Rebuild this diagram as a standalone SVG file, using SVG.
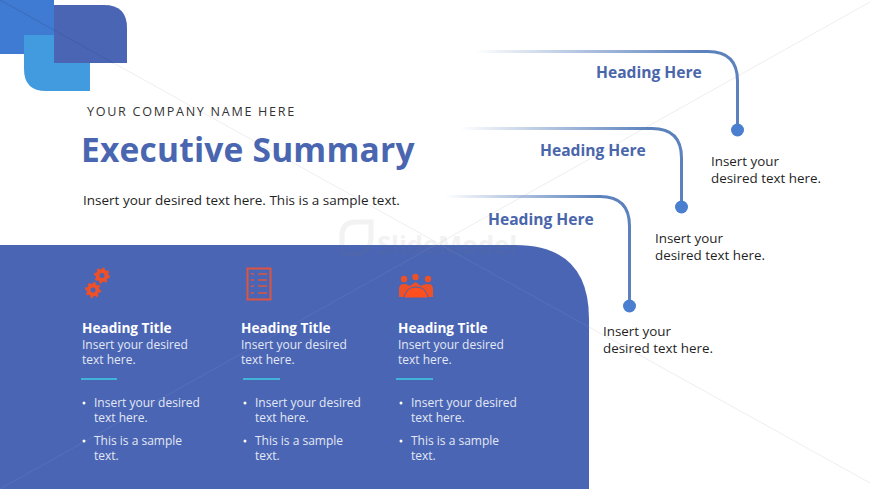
<svg xmlns="http://www.w3.org/2000/svg" width="870" height="489" viewBox="0 0 870 489">
<style>
text{font-family:"Open Sans","Noto Sans","Liberation Sans",sans-serif}
.conn{fill:none;stroke-width:3}
.hh{font-size:15.6px;font-weight:700;fill:#4a66ab}
.d{font-size:13.4px;fill:#1f1f1f}
.ht{font-size:13.6px;font-weight:700;fill:#fff}
.p{font-size:12px;fill:#e3e8f5}
.rule{fill:none;stroke:#3fb4d8;stroke-width:2}
.dot{fill:#4a7fcf}
.ic{fill:#ee5027}
.gear{fill:none;stroke:#ee5027}
</style>
<defs>
<linearGradient id="g1" gradientUnits="userSpaceOnUse" x1="475" y1="0" x2="700" y2="0"><stop offset="0" stop-color="#5b82bd" stop-opacity="0"/><stop offset="1" stop-color="#5b82bd"/></linearGradient>
<linearGradient id="g2" gradientUnits="userSpaceOnUse" x1="460" y1="0" x2="650" y2="0"><stop offset="0" stop-color="#5b82bd" stop-opacity="0"/><stop offset="1" stop-color="#5b82bd"/></linearGradient>
<linearGradient id="g3" gradientUnits="userSpaceOnUse" x1="445" y1="0" x2="600" y2="0"><stop offset="0" stop-color="#5b82bd" stop-opacity="0"/><stop offset="1" stop-color="#5b82bd"/></linearGradient>
</defs>
<rect width="870" height="489" fill="#fff"/>
<path d="M0 0L870 483" stroke="#eeeef1" fill="none"/>
<path d="M870 2L0 489" stroke="#eeeef1" fill="none"/>
<g id="corner">
<rect x="0" y="0" width="54" height="54" fill="#3f7bd3"/>
<path d="M24 35H90V91H46Q24 91 24 69Z" fill="#429bdf"/>
<path d="M54 5H104Q127 5 127 28V63H54Z" fill="#4a65b3"/>
<path d="M0 0L113 63" stroke="#3a5aa0" stroke-opacity=".5" fill="none"/>
</g>
<g id="header">
<text x="87" y="116" font-size="12.6" letter-spacing="1.7" fill="#333">YOUR COMPANY NAME HERE</text>
<text x="81" y="162" font-size="33.500" font-weight="700" fill="#4a66b0" letter-spacing=".2">Executive Summary</text>
<text x="83" y="205" class="d" style="font-size:13.5px">Insert your desired text here. This is a sample text.</text>
</g>
<g id="panel">
<path d="M0 245H515Q589 245 589 319V489H0Z" fill="#4a65b3"/>
<path d="M435 245L0 489M441 245L589 327" stroke="#fff" stroke-opacity=".07" fill="none"/>
</g>
<g id="watermark" opacity=".09" fill="#777">
<text x="377" y="254" font-size="25" font-weight="700" textLength="140" lengthAdjust="spacingAndGlyphs">SlideModel</text>
<path d="M342 249V236Q342 222 356 222H371V236Q371 254 355 254H348Q342 254 342 249Z" fill="none" stroke="#777" stroke-width="5"/>
</g>
<g id="connectors">
<path class="conn" stroke="url(#g1)" d="M475 51.500H708Q737.500 51.500 737.500 81V130"/>
<path class="conn" stroke="url(#g2)" d="M460 128.500H652Q681.500 128.500 681.500 158V207"/>
<path class="conn" stroke="url(#g3)" d="M445 196.500H600Q629.500 196.500 629.500 226V306"/>
</g>
<g id="node-1">
<circle class="dot" cx="737.500" cy="130" r="6.500"/>
<text class="hh" x="596" y="77.500">Heading Here</text>
<text class="d" x="711" y="166">Insert your</text><text class="d" x="711" y="183">desired text here.</text>
</g>
<g id="node-2">
<circle class="dot" cx="681.500" cy="207" r="6.500"/>
<text class="hh" x="540" y="155.500">Heading Here</text>
<text class="d" x="655" y="243">Insert your</text><text class="d" x="655" y="260">desired text here.</text>
</g>
<g id="node-3">
<circle class="dot" cx="629.500" cy="306" r="6.500"/>
<text class="hh" x="488" y="224.500">Heading Here</text>
<text class="d" x="603" y="336">Insert your</text><text class="d" x="603" y="353">desired text here.</text>
</g>
<g id="col-1">
<circle class="gear" cx="102" cy="275.500" r="4.500" stroke-width="4"/><circle class="gear" cx="102" cy="275.500" r="7" stroke-width="2" stroke-dasharray="2.500 3"/>
<circle class="gear" cx="93" cy="290" r="4.500" stroke-width="4"/><circle class="gear" cx="93" cy="290" r="7" stroke-width="2" stroke-dasharray="2.500 3"/>
<text class="ht" x="82" y="333">Heading Title</text>
<text class="p" x="82" y="349">Insert your desired</text><text class="p" x="82" y="364">text here.</text>
<path class="rule" d="M81 379H117"/>
<circle cx="84" cy="403" r="1.500" fill="#fff"/><text class="p" x="94" y="407">Insert your desired</text><text class="p" x="94" y="422">text here.</text>
<circle cx="84" cy="441" r="1.500" fill="#fff"/><text class="p" x="94" y="445">This is a sample</text><text class="p" x="94" y="460">text.</text>
</g>
<g id="col-2">
<rect x="247.500" y="268.500" width="23" height="31" fill="none" stroke="#dd5440" stroke-width="2"/>
<path d="M258 274H267M258 280H267M258 286H267M258 293H267M251 274H254M251 280H254M251 286H254M251 293H254" stroke="#dd5440" stroke-width="1.500" fill="none"/>
<text class="ht" x="241" y="333">Heading Title</text>
<text class="p" x="241" y="349">Insert your desired</text><text class="p" x="241" y="364">text here.</text>
<path class="rule" d="M243 379H280"/>
<circle cx="245" cy="403" r="1.500" fill="#fff"/><text class="p" x="255" y="407">Insert your desired</text><text class="p" x="255" y="422">text here.</text>
<circle cx="245" cy="441" r="1.500" fill="#fff"/><text class="p" x="255" y="445">This is a sample</text><text class="p" x="255" y="460">text.</text>
</g>
<g id="col-3">
<g class="ic"><circle cx="404" cy="279" r="3.200"/><circle cx="415.500" cy="277" r="3.200"/><circle cx="428" cy="279" r="3.200"/>
<path d="M399 297V289Q399 284 404 284Q408 284 410 286L415.500 282L421 286Q423 284 428 284Q433 284 433 289V297Z"/></g>
<path d="M404 298Q406 287 416 287Q426 287 428 298Z" fill="#ff4f1f" stroke="#4a65b3" stroke-width="1"/>
<text class="ht" x="398" y="333">Heading Title</text>
<text class="p" x="398" y="349">Insert your desired</text><text class="p" x="398" y="364">text here.</text>
<path class="rule" d="M396 379H433"/>
<circle cx="401" cy="403" r="1.500" fill="#fff"/><text class="p" x="411" y="407">Insert your desired</text><text class="p" x="411" y="422">text here.</text>
<circle cx="401" cy="441" r="1.500" fill="#fff"/><text class="p" x="411" y="445">This is a sample</text><text class="p" x="411" y="460">text.</text>
</g>
</svg>
